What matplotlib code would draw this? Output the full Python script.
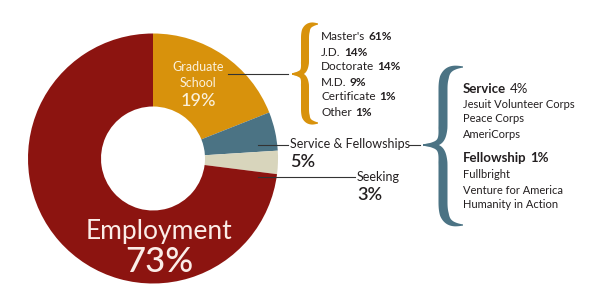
import matplotlib
matplotlib.use("Agg")
import matplotlib.pyplot as plt
import numpy as np
from matplotlib.patches import Polygon

plt.rcParams['font.family'] = ['Lato', 'DejaVu Sans']

# ---- data ----
categories = ["Graduate School", "Service & Fellowships", "Seeking", "Employment"]
values = [19, 5, 3, 73]
colors = ["#D8920C", "#4B7384", "#D8D5BC", "#8C1410"]

grad_items = ["Master's", "J.D.", "Doctorate", "M.D.", "Certificate", "Other"]
grad_values = [61, 14, 14, 9, 1, 1]

service_value = 4
service_items = ["Jesuit Volunteer Corps", "Peace Corps", "AmeriCorps"]
fellowship_value = 1
fellowship_items = ["Fullbright", "Venture for America", "Humanity in Action"]

TXT = "#231f20"

fig = plt.figure(figsize=(6, 3), dpi=100)
ax = fig.add_axes([0, 0, 1, 1])

cx, cy, R, r_in = 153, 158.5, 125, 52
ax.pie(values, colors=colors, startangle=-90, counterclock=True,
       center=(cx, cy), radius=R, wedgeprops=dict(width=R - r_in, linewidth=0))
ax.set_xlim(0, 600)
ax.set_ylim(300, 0)
ax.set_aspect('auto')
ax.axis('off')


def brace(x_tip, x_end, x_stem, y_top, y_bot, y_tip, color, thick=8):
    def cubic(p0, p1, p2, p3, n=30):
        t = np.linspace(0, 1, n)[:, None]
        return ((1-t)**3)*p0 + 3*((1-t)**2)*t*p1 + 3*(1-t)*t**2*p2 + t**3*p3

    def half(y_end):
        s = np.sign(y_end - y_tip)
        h = abs(y_end - y_tip)
        p = lambda x, y: np.array([x, y_tip + s*y])
        a = cubic(p(x_tip, 0), p(x_stem - 2, 0), p(x_stem, 0.05*h), p(x_stem, 0.28*h))
        b = cubic(p(x_stem, 0.28*h), p(x_stem, 0.5*h), p(x_stem, 0.6*h), p(x_stem, 0.72*h))
        c = cubic(p(x_stem, 0.72*h), p(x_stem, 0.97*h), p(x_stem + 0.4*(x_end-x_stem), h),
                  p(x_end, h))
        pts = np.vstack([a, b[1:], c[1:]])
        n = len(pts)
        u = np.linspace(0, 1, n)
        w = np.interp(u, [0, 0.08, 0.3, 0.75, 0.92, 1.0],
                      [1.5, 4.5, thick, thick, 4.0, 1.2])
        d = np.gradient(pts, axis=0)
        d /= np.linalg.norm(d, axis=1)[:, None]
        nrm = np.column_stack([-d[:, 1], d[:, 0]])
        left = pts + nrm * w[:, None] / 2
        right = pts - nrm * w[:, None] / 2
        return np.vstack([left, right[::-1]])

    for ye in (y_top, y_bot):
        ax.add_patch(Polygon(half(ye), closed=True, color=color, lw=0))


def rich(x, y, parts, size, color=TXT):
    t = None
    for s, w in parts:
        if t is None:
            t = ax.text(x, y, s, fontsize=size, fontweight=w, color=color,
                        ha='left', va='center')
        else:
            t = ax.annotate(s, xy=(1, 0.5), xycoords=t, xytext=(2.5, 0),
                            textcoords='offset points', fontsize=size,
                            fontweight=w, color=color, ha='left', va='center')
    return t


# Graduate school label inside slice
ax.text(198, 67, "Graduate", fontsize=9, color="#FBF1DC", ha='center', va='center')
ax.text(198, 83, "School", fontsize=9, color="#FBF1DC", ha='center', va='center')
ax.text(198, 101, f"{values[0]}%", fontsize=13, color="#FBF1DC", ha='center', va='center',
        fontweight='medium')
ax.plot([228, 288], [74, 74], color="#333333", lw=0.8)
brace(292, 318, 305, 24, 123, 74, colors[0], thick=8)
for i, (n, v) in enumerate(zip(grad_items, grad_values)):
    rich(321, 37 + 15*i, [(n, 'normal'), (f"{v}%", 'bold')], 8.5)

# Service & Fellowships
ax.plot([258, 288], [145, 145], color="#333333", lw=0.8)
ax.text(290, 144, categories[1], fontsize=9, color=TXT, ha='left', va='center')
ax.text(290, 162, f"{values[1]}%", fontsize=13, color=TXT, ha='left', va='center',
        fontweight='semibold')
ax.plot([409, 420], [145, 145], color="#333333", lw=0.8)
brace(423, 463, 443, 67, 225, 145, colors[1], thick=9)
rich(463, 89, [("Service", 'bold'), (f"{service_value}%", 'normal')], 9.5)
for i, s in enumerate(service_items):
    ax.text(463, 104 + 15*i, s, fontsize=8, color=TXT, ha='left', va='center')
rich(463, 158, [("Fellowship", 'bold'), (f"{fellowship_value}%", 'bold')], 9.5)
for i, s in enumerate(fellowship_items):
    ax.text(463, 175 + 15*i, s, fontsize=8, color=TXT, ha='left', va='center')

# Seeking
ax.plot([258, 355], [177, 177], color="#333333", lw=0.8)
ax.text(357, 177, categories[2], fontsize=9, color=TXT, ha='left', va='center')
ax.text(357, 195, f"{values[2]}%", fontsize=13, color=TXT, ha='left', va='center',
        fontweight='semibold')

# Employment
ax.text(159, 231, categories[3], fontsize=19, color="#FBEDE8", ha='center', va='center')
ax.text(159, 262, f"{values[3]}%", fontsize=25, color="#FBEDE8", ha='center', va='center',
        fontweight='medium')

fig.savefig("out.png", dpi=100)
